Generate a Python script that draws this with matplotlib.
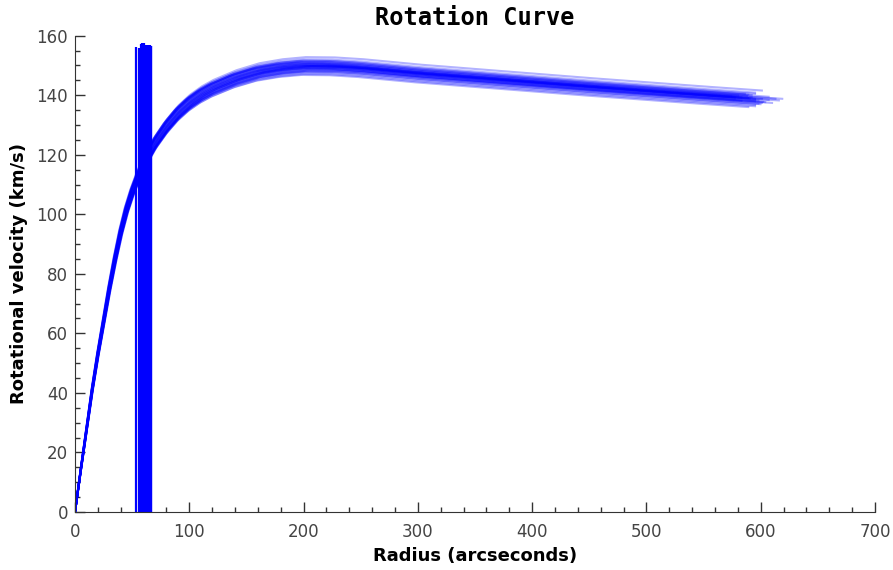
import numpy as np
import matplotlib
matplotlib.use('Agg')
import matplotlib.pyplot as plt
from matplotlib.ticker import MultipleLocator

# mean rotation curve (arcsec, km/s)
radius = [0, 5, 10, 15, 20, 25, 30, 35, 40, 45, 50, 55, 60, 70, 80, 90, 100,
          110, 120, 140, 160, 180, 200, 225, 250, 300, 350, 400, 450, 500,
          550, 595]
velocity = [0, 14, 27.5, 41, 53, 64, 75, 85, 94, 101.5, 107.5, 112.5, 117,
            124, 129.5, 134, 137.5, 140.2, 142.3, 145.5, 147.8, 149.1, 149.8,
            149.7, 149.1, 147.3, 145.8, 144.3, 142.8, 141.4, 140, 138.8]

# ensemble members: radius stretch and velocity stretch of each draw
r_scale = [1.00, 0.98, 1.02, 0.99, 1.01, 0.97, 1.03, 1.00, 0.985, 1.015,
           0.995, 1.005, 0.975, 1.025, 1.00, 0.99, 1.01, 0.98, 1.02, 1.04,
           0.965, 1.00, 0.995, 1.005, 1.01, 0.99, 1.0, 1.012, 0.988, 1.0,
           1.008, 0.992, 1.035, 0.97, 1.0]
v_scale = [1.00, 0.995, 1.005, 1.01, 0.99, 1.0, 1.0, 0.985, 1.012, 0.992,
           1.004, 0.996, 1.008, 0.99, 1.015, 0.98, 1.02, 1.003, 0.997, 1.0,
           1.006, 0.994, 1.009, 0.988, 1.0, 1.002, 0.998, 0.993, 1.007, 1.012,
           0.987, 1.0, 0.996, 1.004, 0.982]

# vertical markers near the core
single_x = 53.3
single_top = 156.2
cluster_x = [56.3, 57.0, 57.7, 58.4, 59.1, 59.8, 60.5, 61.2, 61.9, 62.6,
             63.3, 64.0, 64.7, 65.4, 66.1, 66.7]
cluster_top = [155.8, 156.0, 157.3, 157.5, 157.6, 157.5, 157.4, 157.0, 156.8,
               156.8, 156.8, 156.9, 156.8, 156.8, 156.7, 156.6]

fig = plt.figure(figsize=(8.93, 5.70), dpi=100)
ax = fig.add_axes([0.084, 0.1018, 0.8959, 0.8356])

r = np.array(radius)
v = np.array(velocity)
for rs, vs in zip(r_scale, v_scale):
  ax.plot(r * rs, v * vs, color='blue', lw=1.5, alpha=0.3)

ax.vlines(single_x, 0, single_top, color='blue', lw=1.6)
ax.vlines(cluster_x, 0, cluster_top, color='blue', lw=1.6)

ax.set_xlim(0, 700)
ax.set_ylim(0, 160)
ax.xaxis.set_major_locator(MultipleLocator(100))
ax.xaxis.set_minor_locator(MultipleLocator(20))
ax.yaxis.set_major_locator(MultipleLocator(20))
ax.yaxis.set_minor_locator(MultipleLocator(5))
ax.tick_params(which='both', direction='in', color='#333333', labelcolor='#444444',
               labelsize=12)
ax.tick_params(which='major', length=7, width=1)
ax.tick_params(which='minor', length=3.5, width=1)
ax.tick_params(axis='x', pad=8)
ax.tick_params(axis='y', pad=5)
for s in ['top', 'right']:
  ax.spines[s].set_visible(False)
for s in ['left', 'bottom']:
  ax.spines[s].set_color('#333333')

ax.set_xlabel('Radius (arcseconds)', fontsize=13, fontweight='bold', labelpad=4)
ax.set_ylabel('Rotational velocity (km/s)', fontsize=13, fontweight='bold', labelpad=6)
ax.set_title('Rotation Curve', fontsize=17, fontweight='bold',
             family='DejaVu Sans Mono', pad=8)

fig.savefig('out.png', dpi=100)
